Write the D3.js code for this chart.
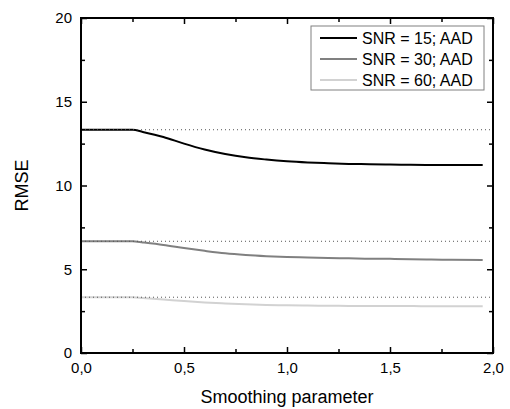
<!DOCTYPE html>
<html>
<head>
<meta charset="utf-8">
<script src="https://cdn.jsdelivr.net/npm/d3@7"></script>
<style>
  body { margin: 0; background: #fff; }
  text { font-family: "Liberation Sans", Arial, sans-serif; fill: #000; }
</style>
</head>
<body>
<div class="chart"></div>
<script>
// data
var smoothing = [0, 0.25, 0.3, 0.4, 0.5, 0.6, 0.7, 0.8, 0.9, 1.0, 1.1, 1.2, 1.3, 1.4, 1.5, 1.6, 1.7, 1.8, 1.95];
var snr15 = [13.33, 13.33, 13.2, 12.9, 12.5, 12.15, 11.88, 11.68, 11.55, 11.45, 11.38, 11.33, 11.29, 11.27, 11.25, 11.24, 11.23, 11.23, 11.22];
var snr30 = [6.67, 6.67, 6.6, 6.45, 6.27, 6.1, 5.95, 5.85, 5.78, 5.73, 5.7, 5.67, 5.65, 5.63, 5.62, 5.6, 5.58, 5.57, 5.55];
var snr60 = [3.33, 3.33, 3.29, 3.2, 3.1, 3.02, 2.96, 2.91, 2.87, 2.85, 2.83, 2.82, 2.81, 2.8, 2.8, 2.8, 2.79, 2.79, 2.79];
var seriesNames = ["SNR = 15; AAD", "SNR = 30; AAD", "SNR = 60; AAD"];
var seriesColors = ["#000000", "#808080", "#d2d2d2"];
var referenceLevels = [13.33, 6.67, 3.33];
var xMajorTicks = [0, 0.5, 1.0, 1.5, 2.0];
var xMinorTicks = [0.25, 0.75, 1.25, 1.75];
var yMajorTicks = [0, 5, 10, 15, 20];
var yMinorTicks = [2.5, 7.5, 12.5, 17.5];

var svgWidth = 510;
var svgHeight = 409;
var margin = { top: 18, right: 17, bottom: 56, left: 81 };
var width = svgWidth - margin.left - margin.right;
var height = svgHeight - margin.top - margin.bottom;

var svg = d3.select(".chart")
  .append("svg")
  .attr("width", svgWidth)
  .attr("height", svgHeight);

var chart = svg.append("g")
  .attr("transform", `translate(${margin.left}, ${margin.top})`);

var xScale = d3.scaleLinear().domain([0, 2]).range([0, width]);
var yScale = d3.scaleLinear().domain([0, 20]).range([height, 0]);

var fmt = function(d) { return d3.format(".1f")(d).replace(".", ","); };

// curves
var allSeries = [snr15, snr30, snr60];
var line = d3.line()
  .x(function(d, i) { return xScale(smoothing[i]); })
  .y(function(d) { return yScale(d); })
  .curve(d3.curveMonotoneX);

allSeries.forEach(function(values, k) {
  chart.append("path")
    .datum(values)
    .attr("fill", "none")
    .attr("stroke", seriesColors[k])
    .attr("stroke-width", 2)
    .attr("d", line);
});

// dotted reference levels on top
chart.selectAll(".ref")
  .data(referenceLevels)
  .enter().append("line")
  .attr("class", "ref")
  .attr("x1", xScale(0))
  .attr("x2", xScale(2))
  .attr("y1", function(d) { return yScale(d); })
  .attr("y2", function(d) { return yScale(d); })
  .attr("stroke", "#555")
  .attr("stroke-width", 1)
  .attr("stroke-dasharray", "1,3");

// axes, ticks pointing inward on all sides
function styleAxis(g) {
  g.select(".domain").remove();
  g.selectAll(".tick line").attr("stroke", "#000").attr("stroke-width", 1.5);
  g.selectAll("text").style("font-size", "15px").attr("fill", "#000");
}

chart.append("g")
  .attr("transform", `translate(0, ${height})`)
  .call(d3.axisBottom(xScale).tickValues(xMajorTicks).tickFormat(fmt).tickSizeInner(-6).tickSizeOuter(0).tickPadding(9))
  .call(styleAxis);
chart.append("g")
  .attr("transform", `translate(0, ${height})`)
  .call(d3.axisBottom(xScale).tickValues(xMinorTicks).tickFormat("").tickSizeInner(-4).tickSizeOuter(0))
  .call(styleAxis);
chart.append("g")
  .call(d3.axisTop(xScale).tickValues(xMajorTicks).tickFormat("").tickSizeInner(-6).tickSizeOuter(0))
  .call(styleAxis);
chart.append("g")
  .call(d3.axisTop(xScale).tickValues(xMinorTicks).tickFormat("").tickSizeInner(-4).tickSizeOuter(0))
  .call(styleAxis);

chart.append("g")
  .call(d3.axisLeft(yScale).tickValues(yMajorTicks).tickFormat(d3.format("d")).tickSizeInner(-6).tickSizeOuter(0).tickPadding(9))
  .call(styleAxis);
chart.append("g")
  .call(d3.axisLeft(yScale).tickValues(yMinorTicks).tickFormat("").tickSizeInner(-4).tickSizeOuter(0))
  .call(styleAxis);
chart.append("g")
  .attr("transform", `translate(${width}, 0)`)
  .call(d3.axisRight(yScale).tickValues(yMajorTicks).tickFormat("").tickSizeInner(-6).tickSizeOuter(0))
  .call(styleAxis);
chart.append("g")
  .attr("transform", `translate(${width}, 0)`)
  .call(d3.axisRight(yScale).tickValues(yMinorTicks).tickFormat("").tickSizeInner(-4).tickSizeOuter(0))
  .call(styleAxis);

// frame
chart.append("rect")
  .attr("width", width)
  .attr("height", height)
  .attr("fill", "none")
  .attr("stroke", "#000")
  .attr("stroke-width", 2);

// axis titles
svg.append("text")
  .attr("x", margin.left + width / 2)
  .attr("y", 403)
  .attr("text-anchor", "middle")
  .style("font-size", "18px")
  .text("Smoothing parameter");

svg.append("text")
  .attr("transform", `translate(28, ${margin.top + height / 2}) rotate(-90)`)
  .attr("text-anchor", "middle")
  .style("font-size", "18px")
  .text("RMSE");

// legend
var legend = svg.append("g").attr("transform", "translate(311, 26)");
legend.append("rect")
  .attr("width", 173)
  .attr("height", 64)
  .attr("fill", "#fff")
  .attr("stroke", "#808080")
  .attr("stroke-width", 1);

var rows = legend.selectAll(".row")
  .data(seriesNames)
  .enter().append("g")
  .attr("class", "row")
  .attr("transform", function(d, i) { return `translate(0, ${12 + i * 21})`; });

rows.append("line")
  .attr("x1", 9)
  .attr("x2", 46)
  .attr("stroke", function(d, i) { return seriesColors[i]; })
  .attr("stroke-width", 2);

rows.append("text")
  .attr("x", 51)
  .attr("dy", "0.36em")
  .style("font-size", "16px")
  .text(function(d) { return d; });
</script>
</body>
</html>
